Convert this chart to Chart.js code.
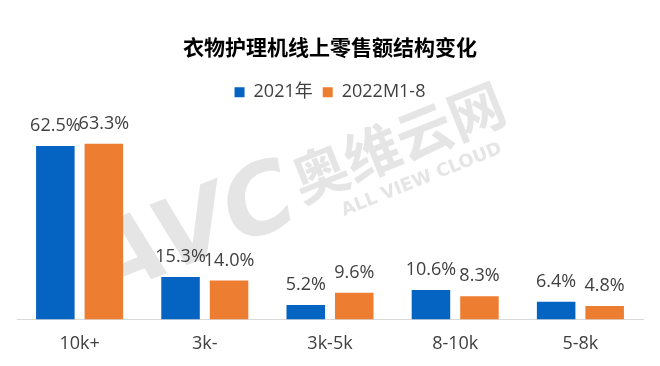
<!DOCTYPE html>
<html><head><meta charset="utf-8">
<script src="https://cdn.jsdelivr.net/npm/chart.js@4"></script>
<style>html,body{margin:0;padding:0;background:#fff}#wrap{width:660px;height:366px}</style>
</head><body><div id="wrap"><canvas id="c"></canvas></div>
<script>
const titleText = '衣物护理机线上零售额结构变化';
const categories = ['10k+', '3k-', '3k-5k', '8-10k', '5-8k'];
const seriesNames = ['2021年', '2022M1-8'];
const values2021 = [62.5, 15.3, 5.2, 10.6, 6.4];
const values2022 = [63.3, 14.0, 9.6, 8.3, 4.8];
const colors = ['#0563C1', '#ED7D31'];
const FONT = '"Open Sans", "Noto Sans CJK SC", sans-serif';

const watermark = {
  id: 'watermark',
  beforeDatasetsDraw(chart) {
    const ctx = chart.ctx;
    ctx.save();
    ctx.fillStyle = 'rgba(222,222,222,0.8)';
    ctx.translate(195, 235);
    ctx.rotate(-0.38);
    ctx.font = 'bold italic 96px "DejaVu Sans", sans-serif';
    ctx.textAlign = 'center';
    ctx.textBaseline = 'middle';
    ctx.fillText('AVC', 0, 0);
    ctx.restore();
    ctx.save();
    ctx.fillStyle = 'rgba(222,222,222,0.8)';
    ctx.translate(398, 142);
    ctx.rotate(-0.38);
    ctx.textAlign = 'center';
    ctx.textBaseline = 'middle';
    ctx.font = 'bold 56px "Noto Sans CJK SC", sans-serif';
    ctx.fillText('奥维云网', 0, 0);
    ctx.font = 'bold 18px "DejaVu Sans", sans-serif';
    ctx.fillText('ALL VIEW CLOUD', 8, 44);
    ctx.restore();
  }
};

const valueLabels = {
  id: 'valueLabels',
  afterDatasetsDraw(chart) {
    const ctx = chart.ctx;
    ctx.save();
    ctx.font = '18px ' + FONT;
    ctx.fillStyle = '#404040';
    ctx.textAlign = 'center';
    ctx.textBaseline = 'alphabetic';
    chart.data.datasets.forEach((ds, i) => {
      chart.getDatasetMeta(i).data.forEach((bar, j) => {
        ctx.fillText(ds.data[j].toFixed(1) + '%', bar.x, bar.y - 15);
      });
    });
    ctx.restore();
  }
};

new Chart(document.getElementById('c'), {
  type: 'bar',
  data: {
    labels: categories,
    datasets: [
      { label: seriesNames[0], data: values2021, backgroundColor: colors[0] },
      { label: seriesNames[1], data: values2022, backgroundColor: colors[1] }
    ]
  },
  options: {
    responsive: true,
    maintainAspectRatio: false,
    animation: false,
    layout: { padding: { top: 26, left: 17, right: 17, bottom: -3 } },
    datasets: { bar: { categoryPercentage: 0.775, barPercentage: 0.794 } },
    plugins: {
      title: {
        display: true, text: titleText, color: '#000',
        font: { family: FONT, size: 21, weight: 'bold' },
        padding: { top: 10, bottom: 12 }
      },
      legend: {
        position: 'top',
        labels: {
          color: '#404040', font: { family: FONT, size: 18 },
          boxWidth: 10, boxHeight: 10, padding: 10
        }
      },
      tooltip: { enabled: false }
    },
    scales: {
      x: {
        grid: { display: false, drawTicks: false },
        border: { display: true, color: '#D9D9D9', width: 1 },
        ticks: { color: '#404040', font: { family: FONT, size: 18 }, padding: 14 }
      },
      y: { display: false, min: 0, max: 75 }
    }
  },
  plugins: [watermark, valueLabels]
});
</script></body></html>
